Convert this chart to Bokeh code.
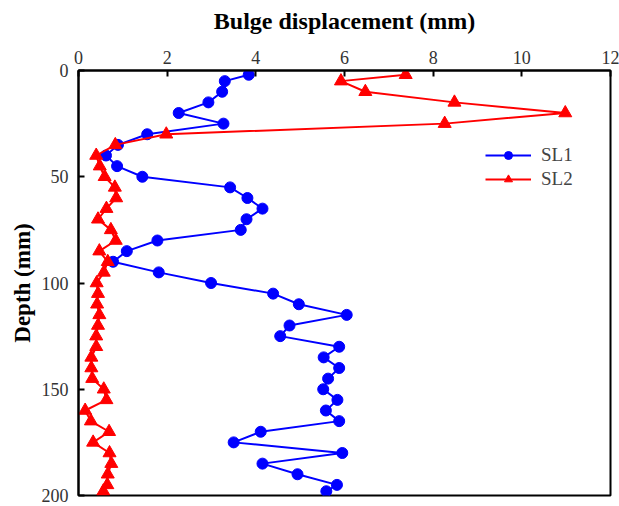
from bokeh.plotting import figure
from bokeh.models import Range1d, Legend, LegendItem, FixedTicker
from bokeh.embed import file_html
from bokeh.resources import INLINE

depth = [2, 5, 10, 15, 20, 25, 30, 35, 40, 45, 50, 55, 60, 65, 70, 75, 80, 85, 90, 95,
         100, 105, 110, 115, 120, 125, 130, 135, 140, 145, 150, 155, 160, 165, 170, 175,
         180, 185, 190, 195, 198]
sl1 = [3.84, 3.30, 3.24, 2.93, 2.26, 3.27, 1.55, 0.89, 0.62, 0.87, 1.44, 3.42, 3.81, 4.15,
       3.79, 3.66, 1.78, 1.09, 0.78, 1.81, 2.99, 4.39, 4.97, 6.05, 4.76, 4.55, 5.88, 5.53,
       5.88, 5.63, 5.52, 5.84, 5.58, 5.88, 4.11, 3.50, 5.95, 4.15, 4.94, 5.83, 5.59]
sl2 = [7.38, 5.92, 6.47, 8.48, 10.98, 8.26, 1.98, 0.83, 0.40, 0.48, 0.59, 0.82, 0.85, 0.63,
       0.44, 0.73, 0.84, 0.47, 0.66, 0.57, 0.41, 0.44, 0.42, 0.47, 0.44, 0.40, 0.40, 0.29,
       0.29, 0.31, 0.57, 0.63, 0.15, 0.28, 0.69, 0.33, 0.70, 0.74, 0.66, 0.65, 0.56]
x_ticks = [0, 2, 4, 6, 8, 10, 12]
y_ticks = [0, 50, 100, 150, 200]

FONT = "Liberation Serif"

p = figure(width=619, height=506, output_backend="svg", toolbar_location=None,
           x_axis_location="above", x_range=Range1d(0, 12), y_range=Range1d(200, 0),
           min_border_left=78, min_border_right=9, min_border_top=70, min_border_bottom=11)
p.grid.visible = False
p.outline_line_color = "black"
p.outline_line_width = 2
p.background_fill_color = "white"
p.border_fill_color = "white"

for ax in (p.xaxis[0], p.yaxis[0]):
    ax.axis_line_width = 2
    ax.major_tick_line_width = 2
    ax.major_tick_in = 6
    ax.major_tick_out = 0
    ax.minor_tick_in = 0
    ax.minor_tick_out = 0
    ax.major_label_text_font = FONT
    ax.major_label_text_font_size = "18px"
    ax.major_label_text_color = "#333333"
    ax.axis_label_text_font = FONT
    ax.axis_label_text_font_style = "bold"
    ax.axis_label_text_color = "black"

p.xaxis.axis_label_text_font_size = "24px"
p.yaxis.axis_label_text_font_size = "23px"
p.xaxis.ticker = FixedTicker(ticks=x_ticks)
p.yaxis.ticker = FixedTicker(ticks=y_ticks)
p.xaxis.axis_label = "Bulge displacement (mm)"
p.yaxis.axis_label = "Depth (mm)"
p.xaxis.major_label_standoff = 7
p.yaxis.major_label_standoff = 10
p.xaxis.axis_label_standoff = 14
p.yaxis.axis_label_standoff = 4

l1 = p.line(sl1, depth, line_color="#0000FF", line_width=2)
m1 = p.scatter(sl1, depth, marker="circle", size=11, fill_color="#0000FF", line_color="#0000FF")
l2 = p.line(sl2, depth, line_color="#FF0000", line_width=2)
m2 = p.scatter(sl2, depth, marker="triangle", size=13, fill_color="#FF0000", line_color="#FF0000")

legend = Legend(items=[LegendItem(label="SL1", renderers=[l1, m1]),
                       LegendItem(label="SL2", renderers=[l2, m2])],
                location=(402, 300), background_fill_alpha=0, border_line_alpha=0,
                label_text_font=FONT, label_text_font_size="19px",
                glyph_width=46, label_standoff=10, spacing=2, padding=5)
p.add_layout(legend)

open("out.html", "w").write(file_html(p, INLINE))
